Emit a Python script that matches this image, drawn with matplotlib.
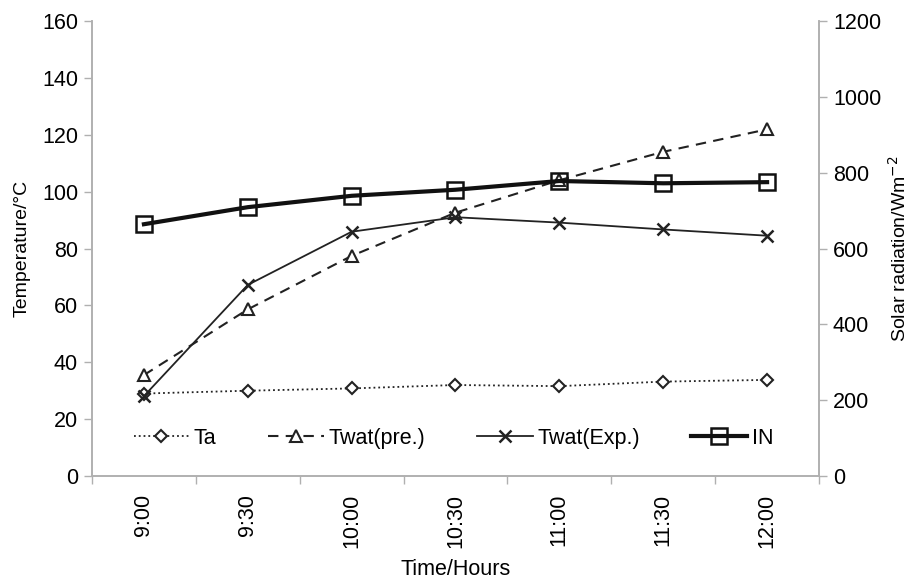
import matplotlib.pyplot as plt
import numpy as np

plt.rcParams['font.family'] = ['Liberation Sans', 'DejaVu Sans']

times = ['9:00', '9:30', '10:00', '10:30', '11:00', '11:30', '12:00']
ta = [29.0, 30.0, 30.8, 32.0, 31.6, 33.2, 33.8]
twat_pre = [35.5, 58.6, 77.4, 92.6, 104.0, 114.0, 121.9]
twat_exp = [28.1, 67.2, 85.9, 91.0, 89.1, 86.7, 84.5]
solar_in = [664, 709, 739, 755, 778, 772, 775]

grey = '#b0b0b0'
fs = 15.5

fig = plt.figure(figsize=(9.09, 5.83), dpi=100)
ax = fig.add_axes([0.1012, 0.1835, 0.7998, 0.7805])
ax2 = ax.twinx()

x = np.arange(len(times))

l1, = ax.plot(x, ta, color='#222222', ls=':', lw=1.3, marker='D', ms=6,
              mfc='white', mec='#222222', mew=1.5, label='Ta')
l2, = ax.plot(x, twat_pre, color='#222222', ls=(0, (5, 3.5)), lw=1.5, marker='^', ms=8,
              mfc='white', mec='#222222', mew=1.5, label='Twat(pre.)')
l3, = ax.plot(x, twat_exp, color='#222222', ls='-', lw=1.3, marker='x', ms=9,
              mec='#222222', mew=1.8, label='Twat(Exp.)')
l4, = ax2.plot(x, solar_in, color='#111111', ls='-', lw=3, marker='s', ms=11,
               mfc='none', mec='#111111', mew=1.8, label='IN')

ax.set_xlim(-0.5, len(times) - 0.5)
ax.set_ylim(0, 160)
ax2.set_ylim(0, 1200)
ax.set_yticks(np.arange(0, 161, 20))
ax2.set_yticks(np.arange(0, 1201, 200))

ax.set_xticks(x)
ax.set_xticklabels(times, rotation=90)
ax.set_xticks(np.arange(-0.5, len(times), 1), minor=True)
ax.tick_params(axis='x', which='major', length=0, pad=13, labelsize=fs)
ax.tick_params(axis='x', which='minor', length=6, color=grey, width=1)
ax.tick_params(axis='y', length=6, color=grey, width=1, labelsize=fs, pad=4)
ax2.tick_params(axis='y', length=6, color=grey, width=1, labelsize=fs, pad=4)

for a in (ax, ax2):
    a.spines['top'].set_visible(False)
    for s in ('left', 'right', 'bottom'):
        a.spines[s].set_color(grey)
        a.spines[s].set_linewidth(1.2)

ax.set_ylabel('Temperature/°C', fontsize=14, labelpad=8)
ax2.set_ylabel('Solar radiation/Wm$^{-2}$', fontsize=14, labelpad=5)
ax.set_xlabel('Time/Hours', fontsize=fs, labelpad=8)

ax.legend(handles=[l1, l2, l3, l4], loc='center', bbox_to_anchor=(0.497, 0.0835),
          ncol=4, frameon=False, fontsize=fs, handlelength=2.6, handletextpad=0.2,
          columnspacing=2.4)

fig.savefig('out.png', dpi=100)
